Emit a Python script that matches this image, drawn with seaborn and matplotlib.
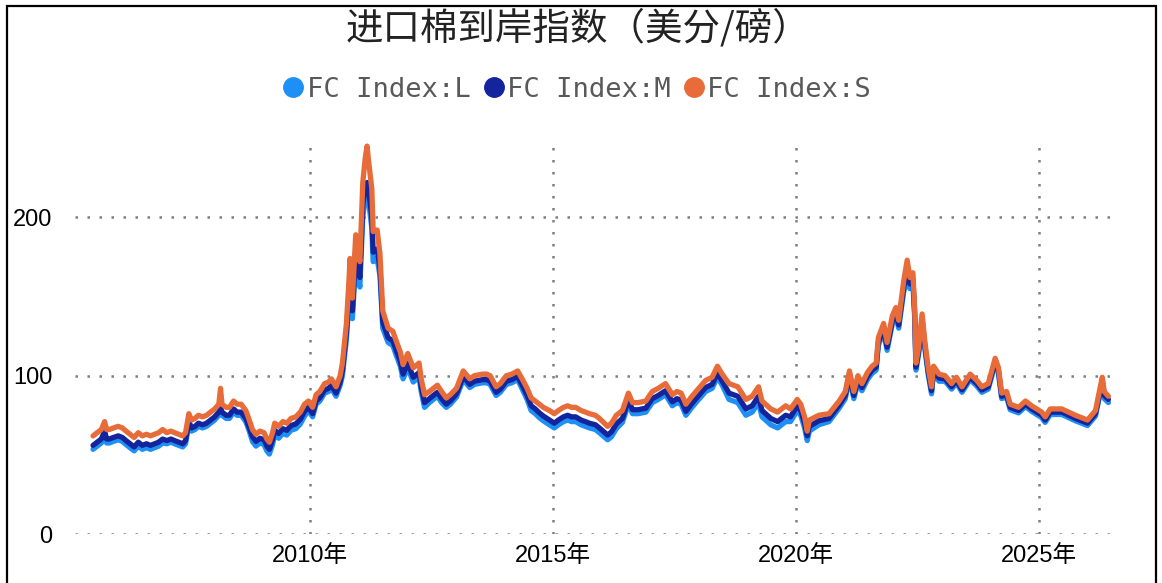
# plot.py  -  进口棉到岸指数 FC Index S/M/L

import numpy as np
import pandas as pd
import matplotlib
matplotlib.use('Agg')
import matplotlib.pyplot as plt
import matplotlib.dates as mdates
from matplotlib.lines import Line2D
from matplotlib.patches import Rectangle
import seaborn as sns

# --- DATA (cents/lb) ---
dates = [
    '2005-07-15', '2005-08-15', '2005-09-15', '2005-10-10', '2005-10-25', '2005-11-15', '2005-12-15',
    '2006-01-20', '2006-02-20', '2006-03-20', '2006-04-20', '2006-05-20', '2006-06-20', '2006-07-20',
    '2006-08-20', '2006-09-20', '2006-10-20', '2006-11-20', '2006-12-20',
    '2007-01-20', '2007-02-20', '2007-03-20', '2007-04-20', '2007-05-20', '2007-06-10', '2007-07-05',
    '2007-07-25', '2007-08-20', '2007-09-15', '2007-10-15', '2007-11-15', '2007-12-15',
    '2008-01-15', '2008-02-15', '2008-02-28', '2008-03-10', '2008-04-10', '2008-05-05', '2008-06-05',
    '2008-07-01', '2008-08-01', '2008-09-05', '2008-10-01', '2008-10-25', '2008-11-20', '2008-12-20',
    '2009-01-20', '2009-02-10', '2009-03-01', '2009-03-25', '2009-04-10', '2009-05-10', '2009-06-10',
    '2009-07-10', '2009-08-10', '2009-09-15', '2009-10-20', '2009-11-20', '2009-12-20',
    '2010-01-20', '2010-02-15', '2010-03-15', '2010-04-20', '2010-05-20', '2010-06-10', '2010-07-15',
    '2010-08-15', '2010-09-01', '2010-10-01', '2010-10-20', '2010-10-28', '2010-11-15', '2010-12-10',
    '2011-01-10', '2011-02-01', '2011-02-20', '2011-03-05', '2011-03-20', '2011-04-10', '2011-04-20',
    '2011-05-20', '2011-06-10', '2011-07-01', '2011-08-10', '2011-09-15', '2011-10-10', '2011-11-10',
    '2011-12-01',
    '2012-01-05', '2012-02-15', '2012-03-30', '2012-04-15', '2012-05-10', '2012-06-15', '2012-07-15',
    '2012-08-15', '2012-09-15', '2012-10-20', '2012-11-20',
    '2013-01-05', '2013-02-25', '2013-04-15', '2013-05-20', '2013-07-20', '2013-08-20', '2013-09-15',
    '2013-10-30', '2013-11-30',
    '2014-01-15', '2014-02-25', '2014-04-10', '2014-05-20', '2014-06-20', '2014-07-20', '2014-08-20',
    '2014-09-20', '2014-10-20', '2014-12-05',
    '2015-01-10', '2015-02-10', '2015-03-20', '2015-04-20', '2015-05-20', '2015-06-20', '2015-07-30',
    '2015-09-01', '2015-10-01', '2015-11-15', '2015-12-15',
    '2016-02-15', '2016-03-15', '2016-04-20', '2016-06-05', '2016-07-20', '2016-08-20', '2016-10-01',
    '2016-11-28',
    '2017-01-15', '2017-03-01', '2017-04-25', '2017-06-15', '2017-07-20', '2017-08-20', '2017-09-25',
    '2017-11-10', '2017-12-10',
    '2018-02-20', '2018-04-10', '2018-05-20', '2018-06-25', '2018-08-15', '2018-10-20', '2018-12-20',
    '2019-02-05', '2019-03-25', '2019-04-20', '2019-06-25', '2019-08-15', '2019-10-15', '2019-11-20',
    '2020-01-10', '2020-02-05', '2020-03-05', '2020-03-25', '2020-04-10', '2020-06-20', '2020-09-05',
    '2020-11-20',
    '2021-01-05', '2021-02-05', '2021-03-10', '2021-04-10', '2021-05-10', '2021-06-20', '2021-07-25',
    '2021-08-25', '2021-09-10', '2021-10-20', '2021-11-15', '2021-12-25',
    '2022-01-20', '2022-02-10', '2022-03-20', '2022-04-15', '2022-05-05', '2022-05-28', '2022-06-10',
    '2022-06-20', '2022-07-10', '2022-08-05', '2022-08-25', '2022-09-20', '2022-10-15', '2022-10-30',
    '2022-12-10',
    '2023-01-25', '2023-03-15', '2023-04-20', '2023-06-01', '2023-08-01', '2023-09-20', '2023-10-28',
    '2023-12-15',
    '2024-02-05', '2024-03-01', '2024-03-25', '2024-05-01', '2024-05-28', '2024-07-30', '2024-09-20',
    '2024-11-05',
    '2025-01-20', '2025-02-15', '2025-03-25', '2025-06-20', '2025-09-30', '2025-12-30',
    '2026-02-28', '2026-04-20', '2026-05-05', '2026-06-05',
]

fc_s = [
    62, 64, 66, 71, 66, 66, 67,
    68, 67, 65, 63, 61, 64, 62, 63, 62, 63, 64, 66,
    64, 65, 64, 63, 62, 64, 76, 72, 73, 75, 74, 75, 77,
    79, 82, 92, 82, 80, 80, 84, 82, 82, 78, 72, 66, 63, 65,
    64, 60, 58, 64, 70, 68, 71, 70, 73, 74, 77, 82, 84,
    80, 88, 90, 95, 96, 98, 93, 100, 108, 133, 160, 174, 149, 189,
    172, 222, 238, 245, 233, 218, 191, 192, 177, 141, 130, 128, 122, 115, 107,
    114, 105, 108, 98, 88, 90, 92, 94, 90, 86, 88,
    92, 103, 98, 100, 101, 101, 100, 93, 95,
    100, 101, 103, 97, 92, 86, 84, 82, 80, 78,
    76, 78, 80, 81, 80, 80, 78, 77, 76, 75, 73,
    68, 70, 75, 78, 89, 83, 83, 84,
    90, 92, 95, 88, 90, 89, 82, 87, 90,
    97, 99, 106, 101, 95, 93, 85,
    87, 93, 84, 79, 77, 81, 79,
    85, 82, 74, 65, 72, 75, 76, 84,
    90, 103, 90, 100, 95, 102, 106, 108, 124, 133, 121, 138,
    143, 135, 160, 173, 162, 165, 143, 108, 118, 139, 122, 105, 93, 106, 101,
    100, 95, 99, 93, 101, 97, 93, 95,
    111, 105, 89, 90, 82, 80, 84, 81,
    77, 74, 79, 79, 75, 72,
    78, 99, 90, 87,
]

fc_m = [
    56, 58, 60, 65, 60, 60, 61,
    62, 61, 59, 57, 55, 58, 56, 57, 56, 57, 58, 60,
    59, 60, 59, 58, 57, 59, 71, 67, 68, 70, 69, 70, 72,
    74, 77, 80, 77, 75, 75, 79, 77, 77, 73, 67, 61.5, 58.5, 60.5,
    59.5, 55.5, 53.5, 59.5, 65.5, 63.5, 66.5, 65.5, 68.5, 69.5, 72.5, 77.5, 80,
    76, 84, 86, 91, 92, 94, 89, 96, 103, 127, 152, 165, 141, 179,
    162, 208, 220, 222, 215, 200, 178, 180, 168, 134, 124, 122, 116, 109, 101,
    108, 99, 102, 93, 83, 85.5, 87.5, 89.5, 85.5, 82, 84,
    88.5, 99.5, 94.5, 96.5, 97.5, 97.5, 96.5, 89.5, 91.5,
    96.5, 97.5, 99.5, 93, 87.5, 81, 79, 76.5, 74.5, 72,
    70, 72, 74, 75, 74, 74, 72, 71, 70, 69, 67,
    62.5, 64.5, 69.5, 73, 84.5, 78.5, 78.5, 79.5,
    85.5, 87.5, 90.5, 83.5, 85.5, 84.5, 77.5, 82.5, 85.5,
    92.5, 94.5, 101.5, 96.5, 89, 87, 79,
    81, 87, 78, 73, 71, 75, 74,
    81, 78, 70, 62, 68, 71.5, 73, 81.5,
    87.5, 100.5, 87.5, 97.5, 92.5, 99.5, 103.5, 105.5, 121, 130, 118, 135,
    140, 132, 156, 166, 158, 161, 140, 105.5, 115.5, 136, 119.5, 102.5, 90.5, 103.5, 98.5,
    98, 93, 97, 91, 99, 95, 91, 93,
    109, 103, 87, 88, 80, 78, 82, 79,
    75, 72, 77, 77, 73, 70,
    76, 97, 87.5, 85,
]

fc_l = [
    53.5, 55.5, 57.5, 62, 57.5, 57.5, 58.5,
    59.5, 58.5, 56.5, 54.5, 52.5, 55.5, 53.5, 54.5, 53.5, 54.5, 55.5, 57.5,
    57, 58, 57, 56, 55, 57, 69, 65, 66, 68, 67, 68, 70,
    72, 75, 78, 75, 73, 73, 77, 75, 75, 71, 65, 58.5, 55.5, 57.5,
    56.5, 52.5, 50.5, 56.5, 62.5, 60.5, 63.5, 62.5, 65.5, 66.5, 69.5, 74.5, 78,
    74, 82, 84, 89, 90, 92, 87, 94, 100, 123, 147, 159, 136, 172,
    156, 200, 213, 216, 208, 193, 172, 174, 163, 130, 121, 119, 113, 106, 98,
    105, 96, 99, 90, 80, 83, 85, 87, 83, 80, 82,
    86.5, 97.5, 92.5, 94.5, 95.5, 95.5, 94.5, 87.5, 89.5,
    94.5, 95.5, 97.5, 90.5, 85, 78, 76, 73.5, 71.5, 69,
    67, 69, 71, 72, 71, 71, 69, 68, 67, 66, 64,
    59.5, 61.5, 66.5, 70.5, 82, 76, 76, 77,
    83, 85, 88, 81, 83, 82, 75, 80, 83,
    90, 92, 99, 94, 85, 83, 75,
    77, 83, 74, 69, 67, 71, 71,
    78, 75, 67, 59, 65, 69, 71, 79.5,
    85.5, 98.5, 85.5, 95.5, 90.5, 97.5, 101.5, 103.5, 119, 128, 116, 133,
    138, 130, 153, 162, 155, 158, 137, 103.5, 113.5, 134, 117.5, 100.5, 88.5, 101.5, 96.5,
    96.5, 91.5, 95.5, 89.5, 97.5, 93.5, 89.5, 91.5,
    107.5, 101.5, 85.5, 86.5, 78.5, 76.5, 80.5, 77.5,
    73.5, 70.5, 75.5, 75.5, 71.5, 68.5,
    74.5, 95.5, 85.5, 83,
]

series_names = ['FC Index:L', 'FC Index:M', 'FC Index:S']
series_colors = ['#1E90F5', '#14249C', '#E86C3A']

# long-form table for seaborn
d = pd.to_datetime(dates)
df = pd.concat([
    pd.DataFrame({'date': d, 'value': fc_l, 'series': series_names[0]}),
    pd.DataFrame({'date': d, 'value': fc_m, 'series': series_names[1]}),
    pd.DataFrame({'date': d, 'value': fc_s, 'series': series_names[2]}),
], ignore_index=True)

# --- PLOT ---
sns.set_style('white')
plt.rcParams['font.family'] = ['Liberation Sans', 'Noto Sans CJK SC', 'DejaVu Sans']

fig = plt.figure(figsize=(11.62, 5.83), dpi=100)
ax = fig.add_axes([0.0645, 0.084, 0.8975, 0.679])

sns.lineplot(data=df, x='date', y='value', hue='series', hue_order=series_names,
             palette=series_colors, linewidth=3.8, legend=False, ax=ax)

ax.set_xlim(pd.Timestamp('2005-03-01'), pd.Timestamp('2026-08-15'))
ax.set_ylim(0, 250)
ax.set_yticks([0, 100, 200])
ax.xaxis.set_major_locator(mdates.YearLocator(5))
ax.xaxis.set_major_formatter(mdates.DateFormatter('%Y年'))
ax.set_xlabel('')
ax.set_ylabel('')

ax.grid(True, linestyle=(0, (1, 3.8)), color='#7f7f7f', linewidth=1.8)
for s in ax.spines.values():
    s.set_visible(False)
ax.tick_params(axis='both', length=0, labelsize=17, labelcolor='black')
ax.tick_params(axis='y', pad=16)
ax.tick_params(axis='x', pad=8)

# title
fig.text(0.497, 0.951, '进口棉到岸指数（美分/磅）', ha='center', va='center',
         fontsize=27, color='#222222', family=['Noto Sans CJK SC', 'DejaVu Sans'])

# legend with round markers
handles = [Line2D([], [], marker='o', linestyle='', markersize=14,
                  markerfacecolor=c, markeredgecolor=c) for c in series_colors]
fig.legend(handles, series_names, loc='center', bbox_to_anchor=(0.497, 0.846), ncol=3,
           frameon=False, handlelength=0.7, handletextpad=0.15, columnspacing=0.5,
           prop={'family': 'DejaVu Sans Mono', 'size': 19.5}, labelcolor='#595959')

# frame around the whole picture
fig.patches.append(Rectangle((0.006, -0.02), 0.989, 1.01, transform=fig.transFigure,
                             fill=False, edgecolor='black', linewidth=1.6))

plt.savefig('out.png', dpi=100)
